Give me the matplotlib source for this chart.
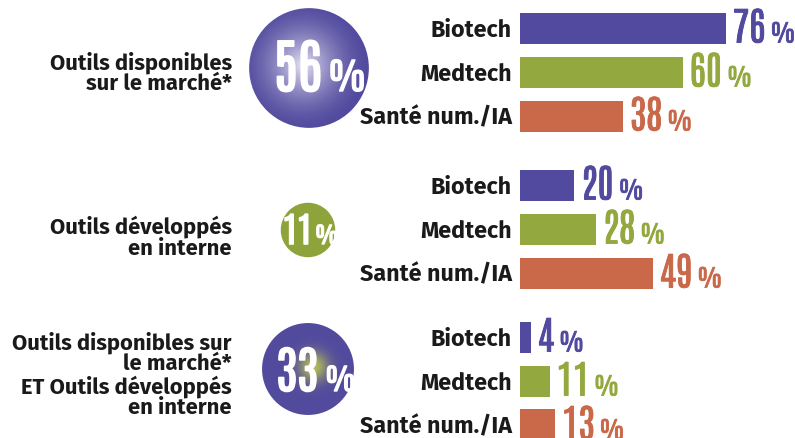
import numpy as np
import matplotlib.pyplot as plt
from matplotlib.patches import Circle
from matplotlib import transforms, patheffects
from matplotlib.colors import to_rgb

# data
groups = [
    "Outils disponibles\nsur le marché*",
    "Outils développés\nen interne",
    "Outils disponibles sur\nle marché*\nET Outils développés\nen interne",
]
group_share = [56, 11, 33]
sectors = ["Biotech", "Medtech", "Santé num./IA"]
biotech = [76, 20, 4]
medtech = [60, 28, 11]
sante = [38, 49, 13]

PURPLE = "#524a9e"
GREEN = "#93a83e"
ORANGE = "#c9694a"
sector_colours = [PURPLE, GREEN, ORANGE]

LABEL_FONT = ["Fira Sans", "Lato", "DejaVu Sans"]
NUM_FONT = ["Antonio", "Liberation Sans Narrow", "DejaVu Sans"]


def bold(col, w=1.0):
    # thicken the condensed display font a little
    return [patheffects.withStroke(linewidth=w, foreground=col)]


W, H = 795, 439
fig = plt.figure(figsize=(W / 100, H / 100), dpi=100)

# main axes in pixel coordinates (for circles and left labels)
ax = fig.add_axes([0, 0, 1, 1])
ax.set_xlim(0, W)
ax.set_ylim(H, 0)
ax.axis("off")

# bar axes: starts at x=520px, ~2.71 px per percent
bar_left = 520
px_per_pct = 2.71
axb = fig.add_axes([bar_left / W, 0, (W - bar_left) / W, 1])
axb.set_xlim(0, (W - bar_left) / px_per_pct)
axb.set_ylim(H, 0)
axb.axis("off")

first_row = [29, 186, 338]
row_step = 44
bar_h = 31
circle_x = 308
circle_y = [69, 231, 370]
label_y = [73, 237, 375]

values = np.array([biotech, medtech, sante])  # sector x group

num_texts = []
for g in range(len(groups)):
    ys = [first_row[g] + i * row_step for i in range(3)]
    vals = values[:, g]
    axb.barh(ys, vals, height=bar_h, color=sector_colours, left=0)
    for i, (y, v) in enumerate(zip(ys, vals)):
        ax.text(512, y + 1, sectors[i], ha="right", va="center",
                family=LABEL_FONT, fontweight="bold", fontsize=16.8, color="#1a1a1a")
        base = y + bar_h / 2 - 1
        t = axb.annotate(f"{v}", xy=(v, base), xytext=(5, 0),
                         textcoords="offset points", ha="left", va="baseline",
                         family=NUM_FONT, fontsize=28, color=sector_colours[i],
                         annotation_clip=False, path_effects=bold(sector_colours[i], 0.6))
        num_texts.append((t, base, sector_colours[i]))

    # left group label
    ax.text(232, label_y[g], groups[g], ha="right", va="center", ma="right",
            family=LABEL_FONT, fontweight="bold", fontsize=15.8, linespacing=1.0,
            color="#1a1a1a")


def radial_disc(cx, cy, r, edge, centre, width, power=None, off=(0, 0)):
    n = 200
    xx, yy = np.meshgrid(np.linspace(-1, 1, n), np.linspace(-1, 1, n))
    d = np.hypot(xx - off[0], yy - off[1])
    if power is not None:
        f = np.clip(1 - d / width, 0, 1) ** power
    else:
        f = np.exp(-(d / width) ** 2)
    e = np.array(to_rgb(edge))
    c = np.array(to_rgb(centre))
    img = e + (c - e) * f[..., None]
    clip = Circle((cx, cy), r, transform=ax.transData, facecolor="none", edgecolor="none")
    ax.add_patch(clip)
    im = ax.imshow(img, extent=(cx - r, cx + r, cy + r, cy - r), origin="upper",
                   interpolation="bilinear", zorder=2)
    im.set_clip_path(clip)


radii = [8 * np.sqrt(v) for v in group_share]
# 56 %
radial_disc(circle_x + 1, circle_y[0], radii[0], PURPLE, "#e6e4f4", 1.1, power=1.7, off=(-0.1, -0.05))
# 11 %
ax.add_patch(Circle((circle_x, circle_y[1]), radii[1], color="#8ea33a", zorder=2))
# 33 %
radial_disc(circle_x, circle_y[2], radii[2], PURPLE, "#b4bc58", 0.32, off=(0.12, -0.05))

# circle numbers
circle_num = [
    dict(x_num=322, x_pct=328, y=92, fs=42, fs_pct=26),
    dict(x_num=312, x_pct=315, y=245, fs=25, fs_pct=16),
    dict(x_num=318, x_pct=325, y=392, fs=36, fs_pct=21),
]
for share, c in zip(group_share, circle_num):
    ax.text(c["x_num"], c["y"], f"{share}", ha="right", va="baseline",
            family=NUM_FONT, fontsize=c["fs"], color="white", zorder=3,
            path_effects=bold("white", 1.2))
    ax.text(c["x_pct"], c["y"], "%", ha="left", va="baseline",
            family=NUM_FONT, fontsize=c["fs_pct"], color="white", zorder=3,
            path_effects=bold("white", 1.0))

# "%" after each bar value, placed right after the number
fig.canvas.draw()
renderer = fig.canvas.get_renderer()
trans = transforms.blended_transform_factory(transforms.IdentityTransform(), axb.transData)
for t, y, col in num_texts:
    bb = t.get_window_extent(renderer)
    axb.text(bb.x1 + 5, y, "%", transform=trans, ha="left", va="baseline",
             family=NUM_FONT, fontsize=17, color=col, clip_on=False,
             path_effects=bold(col, 0.6))

fig.savefig("out.png", dpi=100)
